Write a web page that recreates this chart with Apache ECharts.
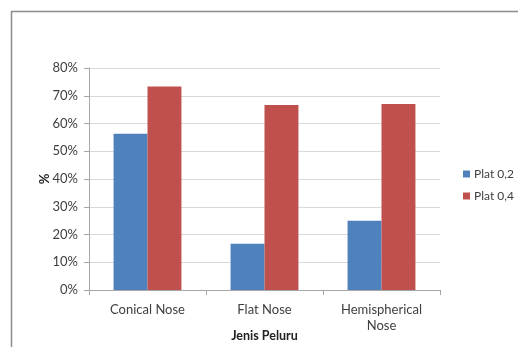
<!DOCTYPE html>
<html>
<head>
<meta charset="utf-8">
<script src="https://cdn.jsdelivr.net/npm/echarts@6/dist/echarts.min.js"></script>
<style>
  html, body { margin: 0; padding: 0; background: #fff; }
  #chart { width: 518px; height: 347px; }
</style>
</head>
<body>
<div id="chart"></div>
<script>
// Bullet types and penetration percentages for the two plate thicknesses
var categories = ['Conical Nose', 'Flat Nose', 'Hemispherical\nNose'];
var plat02 = [56.3, 16.7, 25.0];
var plat04 = [73.3, 66.7, 67.0];
var seriesNames = ['Plat 0,2', 'Plat 0,4'];
var yTicks = [0, 10, 20, 30, 40, 50, 60, 70, 80];

var FONT = 'Lato, "Liberation Sans", sans-serif';
var chart = echarts.init(document.getElementById('chart'), null, { renderer: 'canvas' });

chart.setOption({
  animation: false,
  backgroundColor: '#ffffff',
  textStyle: { fontFamily: FONT },
  graphic: [{
    type: 'rect',
    shape: { x: 11.5, y: 11.5, width: 520, height: 350 },
    style: { fill: 'none', stroke: '#8c8c8c', lineWidth: 1.5 },
    silent: true
  }],
  grid: { left: 89, right: 78, top: 68, bottom: 57, containLabel: false, outerBoundsMode: 'none' },
  legend: {
    orient: 'vertical',
    left: 458, top: 163,
    itemWidth: 7, itemHeight: 7, itemGap: 10,
    icon: 'rect',
    textStyle: { fontFamily: FONT, fontSize: 12, color: '#404040', padding: [0, 0, 0, -1] },
    data: seriesNames
  },
  xAxis: {
    type: 'category',
    data: categories,
    name: 'Jenis Peluru',
    nameLocation: 'middle',
    nameGap: 39,
    nameMoveOverlap: false,
    nameTextStyle: { fontFamily: FONT, fontSize: 12.5, fontWeight: 'bold', color: '#222' },
    axisLine: { lineStyle: { color: '#a6a6a6' } },
    axisTick: { show: true, length: 5, lineStyle: { color: '#a6a6a6' } },
    axisLabel: { fontFamily: FONT, fontSize: 13, color: '#404040', margin: 12, lineHeight: 16 }
  },
  yAxis: {
    type: 'value',
    min: yTicks[0], max: yTicks[yTicks.length - 1], interval: 10,
    name: '%',
    nameLocation: 'middle',
    nameGap: 38,
    nameMoveOverlap: false,
    nameRotate: 90,
    nameTextStyle: { fontFamily: FONT, fontSize: 13, fontWeight: 'bold', color: '#222' },
    axisLine: { show: true, lineStyle: { color: '#a6a6a6' } },
    axisTick: { show: true, length: 5, lineStyle: { color: '#a6a6a6' } },
    axisLabel: { fontFamily: FONT, fontSize: 13, color: '#404040', margin: 11, formatter: '{value}%' },
    splitLine: { lineStyle: { color: '#d9d9d9' } }
  },
  series: [
    {
      name: seriesNames[0], type: 'bar', data: plat02,
      barGap: '0%', barCategoryGap: '42%',
      itemStyle: { color: '#4f81bd' }
    },
    {
      name: seriesNames[1], type: 'bar', data: plat04,
      barGap: '0%', barCategoryGap: '42%',
      itemStyle: { color: '#c0504d' }
    }
  ]
});
</script>
</body>
</html>
